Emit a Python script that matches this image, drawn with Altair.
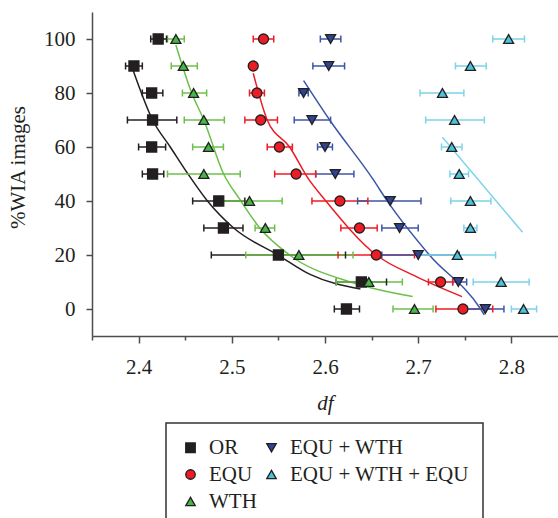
import altair as alt
import pandas as pd

# ---------------- data ----------------
levels = [100, 90, 80, 70, 60, 50, 40, 30, 20, 10, 0]

series_names = ["OR", "EQU", "WTH", "EQU + WTH", "EQU + WTH + EQU"]

or_df = [2.421, 2.395, 2.414, 2.415, 2.414, 2.415, 2.486, 2.491, 2.550, 2.639, 2.623]
or_lo = [2.413, 2.386, 2.404, 2.388, 2.400, 2.404, 2.458, 2.470, 2.478, 2.612, 2.610]
or_hi = [2.430, 2.404, 2.426, 2.441, 2.429, 2.427, 2.514, 2.512, 2.622, 2.666, 2.637]

equ_df = [2.534, 2.523, 2.527, 2.531, 2.551, 2.569, 2.616, 2.637, 2.655, 2.724, 2.748]
equ_lo = [2.523, 2.523, 2.519, 2.514, 2.538, 2.546, 2.586, 2.617, 2.614, 2.711, 2.719]
equ_hi = [2.545, 2.523, 2.535, 2.549, 2.565, 2.590, 2.646, 2.656, 2.696, 2.737, 2.780]

wth_df = [2.440, 2.448, 2.459, 2.470, 2.475, 2.470, 2.519, 2.536, 2.572, 2.647, 2.696]
wth_lo = [2.431, 2.435, 2.447, 2.449, 2.458, 2.431, 2.484, 2.525, 2.515, 2.612, 2.673]
wth_hi = [2.449, 2.463, 2.473, 2.492, 2.491, 2.509, 2.554, 2.546, 2.630, 2.683, 2.716]

ew_df = [2.606, 2.604, 2.577, 2.586, 2.600, 2.611, 2.670, 2.680, 2.700, 2.743, 2.772]
ew_lo = [2.595, 2.587, 2.572, 2.567, 2.592, 2.590, 2.635, 2.661, 2.661, 2.737, 2.752]
ew_hi = [2.617, 2.621, 2.582, 2.606, 2.608, 2.631, 2.703, 2.700, 2.744, 2.752, 2.792]

ewe_df = [2.797, 2.756, 2.726, 2.739, 2.736, 2.744, 2.756, 2.756, 2.742, 2.789, 2.813]
ewe_lo = [2.780, 2.740, 2.702, 2.708, 2.725, 2.734, 2.735, 2.749, 2.700, 2.759, 2.800]
ewe_hi = [2.814, 2.773, 2.749, 2.771, 2.747, 2.754, 2.778, 2.763, 2.783, 2.819, 2.827]

# fitted curves
or_fit_x = [2.394, 2.415, 2.434, 2.453, 2.473, 2.502, 2.550, 2.584, 2.638]
or_fit_y = [88.5, 70, 60, 50, 40.4, 30, 19.9, 12.8, 7.4]
equ_fit_x = [2.523, 2.538, 2.562, 2.583, 2.600, 2.655, 2.698, 2.747]
equ_fit_y = [87.3, 70, 60, 47.8, 40.4, 20, 12, 4.6]
wth_fit_x = [2.440, 2.457, 2.470, 2.491, 2.509, 2.530, 2.562, 2.630, 2.694]
wth_fit_y = [97.8, 80, 70, 50.2, 40.4, 30, 20, 9.7, 4.6]
ew_fit_x = [2.577, 2.605, 2.652, 2.666, 2.712, 2.767, 2.771]
ew_fit_y = [84.6, 70, 47.8, 40.4, 20, 0, -2.2]
ewe_fit_x = [2.726, 2.812]
ewe_fit_y = [63.6, 28.4]

# ---------------- tables ----------------
pts = []
for name, d, lo, hi in [
    ("OR", or_df, or_lo, or_hi),
    ("EQU", equ_df, equ_lo, equ_hi),
    ("WTH", wth_df, wth_lo, wth_hi),
    ("EQU + WTH", ew_df, ew_lo, ew_hi),
    ("EQU + WTH + EQU", ewe_df, ewe_lo, ewe_hi),
]:
    for lv, a, b, c in zip(levels, d, lo, hi):
        pts.append({"series": name, "wia": lv, "df": a, "lo": b, "hi": c})
pts = pd.DataFrame(pts)

fits = []
for name, fx, fy in [
    ("OR", or_fit_x, or_fit_y),
    ("EQU", equ_fit_x, equ_fit_y),
    ("WTH", wth_fit_x, wth_fit_y),
    ("EQU + WTH", ew_fit_x, ew_fit_y),
    ("EQU + WTH + EQU", ewe_fit_x, ewe_fit_y),
]:
    for a, b in zip(fx, fy):
        fits.append({"series": name, "df": a, "wia": b})
fits = pd.DataFrame(fits)

legend_order = series_names
line_order = list(reversed(series_names))  # different order: hidden line legend is not merged
line_colors = {"OR": "#231f20", "EQU": "#ed1c24", "WTH": "#6cc04a",
               "EQU + WTH": "#3c56a6", "EQU + WTH + EQU": "#7dd3e8"}
fill_colors = {"OR": "#231f20", "EQU": "#ed1c24", "WTH": "#45b649",
               "EQU + WTH": "#2e4596", "EQU + WTH + EQU": "#4cc3dd"}
shapes = {"OR": "square", "EQU": "circle", "WTH": "triangle-up",
          "EQU + WTH": "triangle-down", "EQU + WTH + EQU": "triangle-up"}

line_scale = alt.Scale(domain=line_order, range=[line_colors[s] for s in line_order])
fill_scale = alt.Scale(domain=legend_order, range=[fill_colors[s] for s in legend_order])
shape_scale = alt.Scale(domain=legend_order, range=[shapes[s] for s in legend_order])

FONT = "Liberation Serif"
INK = "#231f20"
AX = "#4d4d4d"
FS = 21
CAP = 1.3  # half cap height in data units

x_ticks = [2.35, 2.40, 2.45, 2.50, 2.55, 2.60, 2.65, 2.70, 2.75, 2.80]
y_ticks = [0, 10, 20, 30, 40, 50, 60, 70, 80, 90, 100, 110]

x_major = "abs(datum.value*10 - round(datum.value*10)) < 0.001"
y_major = "datum.value % 20 == 0 && datum.value <= 100"

x_enc = alt.X(
    "df:Q",
    scale=alt.Scale(domain=[2.35, 2.85], nice=False, zero=False),
    axis=alt.Axis(
        values=x_ticks,
        title="df",
        titleFontStyle="italic",
        titleY=73,
        titleBaseline="alphabetic",
        labelExpr=f"{x_major} ? format(datum.value, '.1f') : ''",
        tickSize={"condition": {"test": x_major, "value": 7}, "value": 4},
        labelPadding=13,
        labelOverlap=False,
        labelFlush=False,
    ),
)
y_enc = alt.Y(
    "wia:Q",
    scale=alt.Scale(domain=[-10, 110], nice=False, zero=False),
    axis=alt.Axis(
        values=y_ticks,
        title="%WIA images",
        titleX=-68,
        titleY=155,
        titleBaseline="alphabetic",
        labelExpr=f"{y_major} ? datum.label : ''",
        tickSize={"condition": {"test": y_major, "value": 6}, "value": 3.5},
        labelPadding=11,
        labelOverlap=False,
        labelFlush=False,
    ),
)

line_stroke = alt.Stroke("series:N", scale=line_scale, legend=None)

lines = alt.Chart(fits).mark_line(strokeWidth=1.5, interpolate="monotone").encode(
    x=x_enc, y=y_enc, stroke=line_stroke, detail="series:N",
)

err = alt.Chart(pts).mark_rule(strokeWidth=1.5).encode(
    x=alt.X("lo:Q"), x2="hi:Q", y="wia:Q", stroke=line_stroke,
)
cap_lo = alt.Chart(pts).transform_calculate(
    y1=f"datum.wia - {CAP}", y2=f"datum.wia + {CAP}"
).mark_rule(strokeWidth=1.5).encode(
    x="lo:Q", y="y1:Q", y2="y2:Q", stroke=line_stroke,
)
cap_hi = alt.Chart(pts).transform_calculate(
    y1=f"datum.wia - {CAP}", y2=f"datum.wia + {CAP}"
).mark_rule(strokeWidth=1.5).encode(
    x="hi:Q", y="y1:Q", y2="y2:Q", stroke=line_stroke,
)

legend = alt.Legend(
    title=None,
    orient="none",
    legendX=74,
    legendY=411,
    columns=2,
    strokeColor="#333333",
    padding=14,
    symbolSize=90,
    symbolStrokeColor=INK,
    symbolStrokeWidth=1.3,
    labelFont=FONT,
    labelFontSize=21,
    labelColor=INK,
    labelLimit=400,
    labelOffset=8,
    columnPadding=4,
    rowPadding=5,
)

points = alt.Chart(pts).mark_point(filled=True, opacity=1, size=100, strokeWidth=1.3,
                                   stroke=INK).encode(
    x="df:Q", y="wia:Q",
    color=alt.Color("series:N", scale=fill_scale, legend=legend),
    shape=alt.Shape("series:N", scale=shape_scale, legend=legend),
)

chart = (
    alt.layer(lines, err, cap_lo, cap_hi, points)
    .properties(
        width=466,
        height=324,
        autosize=alt.AutoSizeParams(type="none"),
        padding={"left": 92, "top": 12, "right": 0, "bottom": 182},
    )
    .configure_view(stroke=None)
    .configure_axis(
        grid=False,
        domainColor=AX,
        domainWidth=1.5,
        tickColor=AX,
        tickWidth=1.5,
        labelFont=FONT,
        labelFontSize=FS,
        labelColor=INK,
        titleFont=FONT,
        titleFontSize=FS,
        titleFontWeight="normal",
        titleColor=INK,
    )
    .configure_legend(strokeWidth=1.5)
)

chart.save("out.html", embed_options={"renderer": "svg", "actions": False})
